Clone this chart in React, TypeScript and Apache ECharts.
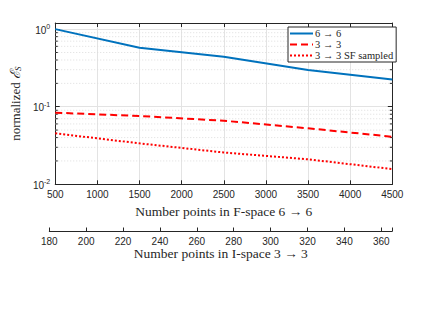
import React, { useEffect, useRef } from "react";
import * as echarts from "echarts";

const fPoints = [500, 1500, 2500, 3500, 4500];
const blue66 = [1.0, 0.575, 0.441, 0.297, 0.225];
const red33 = [0.0838, 0.0759, 0.066, 0.0527, 0.041];
const red33SF = [0.0454, 0.0337, 0.0257, 0.021, 0.0157];
const seriesNames = ["6 \u2192 6", "3 \u2192 3", "3 \u2192 3 SF sampled"];
const minorValues = [0.02, 0.03, 0.04, 0.05, 0.06, 0.07, 0.08, 0.09, 0.2, 0.3, 0.4, 0.5, 0.6, 0.7, 0.8, 0.9];

const AX = "#262626";
const GRID = "#e3e3e3";
const SANS = "'Liberation Sans', Arial, sans-serif";
const SERIF = "'Liberation Serif', 'DejaVu Serif', serif";

export default function App() {
  const ref = useRef<HTMLDivElement>(null);
  useEffect(() => {
    document.body.style.margin = "0";
    const chart = echarts.init(ref.current!, null, { renderer: "svg" });
    const isPow = (v: number) => Math.abs(Math.log10(v) - Math.round(Math.log10(v))) < 1e-6;
    const option: any = {
      animation: false,
      backgroundColor: "#fff",
      grid: [
        { left: 49.3, right: 32.7, top: 23, bottom: 128.7 },
        { left: 49.3, right: 32.7, top: 230, height: 1 },
      ],
      legend: {
        data: seriesNames,
        orient: "vertical",
        left: 288,
        top: 27,
        backgroundColor: "#fff",
        borderColor: AX,
        borderWidth: 1,
        padding: [1, 3, 1, 1],
        itemWidth: 23,
        itemHeight: 11,
        itemGap: 0,
        itemStyle: { opacity: 0 },
        textStyle: { fontFamily: SERIF, fontSize: 10.5, color: AX, padding: [0, 0, 0, -3] },
      },
      xAxis: [
        {
          type: "value", gridIndex: 0, min: 500, max: 4500, interval: 500,
          axisLine: { onZero: false, lineStyle: { color: AX, width: 1 } },
          axisTick: { inside: true, length: 4, lineStyle: { color: AX } },
          axisLabel: { fontFamily: SANS, fontSize: 10, color: AX, margin: 5, formatter: (v: number) => String(v) },
          splitLine: { show: true, lineStyle: { color: GRID, width: 1 } },
          name: "Number points in F-space 6 \u2192 6",
          nameLocation: "middle",
          nameGap: 12,
          nameTextStyle: { fontFamily: SERIF, fontSize: 13.5, color: AX },
        },
        {
          type: "value", gridIndex: 0, position: "top", min: 500, max: 4500, interval: 500,
          axisLine: { onZero: false, lineStyle: { color: AX, width: 1 } },
          axisTick: { inside: true, length: 4, lineStyle: { color: AX } },
          axisLabel: { show: false },
          splitLine: { show: false },
        },
        {
          type: "value", gridIndex: 1, position: "bottom", min: 180, max: 366, interval: 20,
          axisLine: { onZero: false, lineStyle: { color: AX, width: 1 } },
          axisTick: { inside: true, length: 3.5, lineStyle: { color: AX } },
          axisLabel: {
            fontFamily: SANS, fontSize: 10, color: AX, margin: 5,
            formatter: (v: number) => (v % 20 === 0 ? String(v) : ""),
          },
          splitLine: { show: false },
          name: "Number points in I-space 3 \u2192 3",
          nameLocation: "middle",
          nameGap: 14,
          nameTextStyle: { fontFamily: SERIF, fontSize: 13.5, color: AX },
        },
      ],
      yAxis: [
        {
          type: "log", logBase: 10, gridIndex: 0, min: 0.01, max: 1.2,
          axisLine: { lineStyle: { color: AX, width: 1 } },
          axisTick: { inside: true, length: 4.5, lineStyle: { color: AX } },
          axisLabel: {
            margin: 5,
            formatter: (v: number) => (isPow(v) ? `{b|10}{s|${Math.round(Math.log10(v))}}` : ""),
            rich: {
              b: { fontFamily: SANS, fontSize: 10, color: AX, lineHeight: 12, verticalAlign: "bottom" },
              s: { fontFamily: SANS, fontSize: 7, color: AX, lineHeight: 12, verticalAlign: "top", padding: [0, 0, 5, 0] },
            },
          },
          splitLine: { show: true, lineStyle: { color: GRID, width: 1 } },
          name: "normalized {e|\u2130}{s|S}",
          nameLocation: "middle",
          nameGap: 30,
          nameRotate: 90,
          nameTextStyle: {
            fontFamily: SERIF, fontSize: 13, color: AX,
            rich: {
              e: { fontFamily: SERIF, fontSize: 14, color: AX, fontStyle: "italic" },
              s: { fontFamily: SERIF, fontSize: 9, color: AX, fontStyle: "italic", padding: [5, 0, 0, 0] },
            },
          },
        },
        {
          type: "log", logBase: 10, gridIndex: 0, position: "right", min: 0.01, max: 1.2,
          axisLine: { lineStyle: { color: AX, width: 1 } },
          axisTick: { inside: true, length: 4.5, lineStyle: { color: AX } },
          axisLabel: { show: false },
          splitLine: { show: false },
        },
        { type: "value", gridIndex: 1, show: false, min: 0, max: 1 },
      ],
      series: [
        {
          type: "custom",
          name: "minor",
          xAxisIndex: 0,
          yAxisIndex: 0,
          silent: true,
          clip: false,
          z: 1,
          data: minorValues.map((v) => [500, v]),
          renderItem: (params: any, api: any) => {
            const v = api.value(1);
            const p0 = api.coord([500, v]);
            const p1 = api.coord([4500, v]);
            return {
              type: "group",
              children: [
                { type: "line", shape: { x1: p0[0], y1: p0[1], x2: p1[0], y2: p1[1] }, style: { stroke: "#dddddd", lineWidth: 1, lineDash: [1, 2] } },
                { type: "line", shape: { x1: p0[0], y1: p0[1], x2: p0[0] + 2.5, y2: p0[1] }, style: { stroke: AX, lineWidth: 1 } },
                { type: "line", shape: { x1: p1[0] - 2.5, y1: p1[1], x2: p1[0], y2: p1[1] }, style: { stroke: AX, lineWidth: 1 } },
              ],
            };
          },
        },
        {
          name: seriesNames[0], type: "line", xAxisIndex: 0, yAxisIndex: 0, z: 3,
          data: fPoints.map((x, i) => [x, blue66[i]]),
          symbol: "none", color: "#0072BD",
          lineStyle: { color: "#0072BD", width: 2 },
        },
        {
          name: seriesNames[1], type: "line", xAxisIndex: 0, yAxisIndex: 0, z: 3,
          data: fPoints.map((x, i) => [x, red33[i]]),
          symbol: "none", color: "#FF0000",
          lineStyle: { color: "#FF0000", width: 2, type: [7, 4] },
        },
        {
          name: seriesNames[2], type: "line", xAxisIndex: 0, yAxisIndex: 0, z: 3,
          data: fPoints.map((x, i) => [x, red33SF[i]]),
          symbol: "none", color: "#FF0000",
          lineStyle: { color: "#FF0000", width: 2, type: [2, 2] },
        },
      ],
    };
    chart.setOption(option);
    return () => chart.dispose();
  }, []);
  return <div ref={ref} style={{ width: 425, height: 313 }} />;
}
